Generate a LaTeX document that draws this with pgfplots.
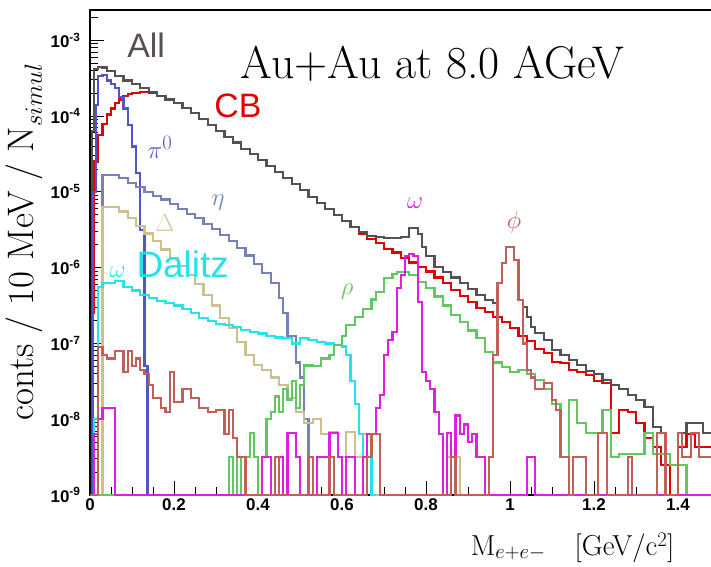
\documentclass[border=0pt]{standalone}
\usepackage{fontspec}
\setsansfont{Liberation Sans}
\usepackage{pgfplots}
\pgfplotsset{compat=1.18}

\definecolor{allgray}{RGB}{88,80,80}
\definecolor{cbred}{RGB}{228,0,0}
\definecolor{pizero}{RGB}{84,84,200}
\definecolor{etac}{RGB}{116,130,184}
\definecolor{deltac}{RGB}{204,192,142}
\definecolor{dalitzc}{RGB}{40,226,234}
\definecolor{omegac}{RGB}{224,30,224}
\definecolor{rhoc}{RGB}{96,200,96}
\definecolor{phic}{RGB}{192,96,88}

\begin{document}
\begin{tikzpicture}
\begin{axis}[
  scale only axis,
  width=630bp, height=485bp,
  xmin=0, xmax=1.5,
  ymode=log, ymin=1e-9, ymax=2.51e-3,
  xtick={0,0.2,0.4,0.6,0.8,1.0,1.2,1.4},
  xticklabels={0,0.2,0.4,0.6,0.8,1,1.2,1.4},
  minor x tick num=3,
  ytick={1e-9,1e-8,1e-7,1e-6,1e-5,1e-4,1e-3},
  yticklabels={10\textsuperscript{-9},10\textsuperscript{-8},10\textsuperscript{-7},10\textsuperscript{-6},10\textsuperscript{-5},10\textsuperscript{-4},10\textsuperscript{-3}},
  minor ytick={2e-9,3e-9,4e-9,5e-9,6e-9,7e-9,8e-9,9e-9,
               2e-8,3e-8,4e-8,5e-8,6e-8,7e-8,8e-8,9e-8,
               2e-7,3e-7,4e-7,5e-7,6e-7,7e-7,8e-7,9e-7,
               2e-6,3e-6,4e-6,5e-6,6e-6,7e-6,8e-6,9e-6,
               2e-5,3e-5,4e-5,5e-5,6e-5,7e-5,8e-5,9e-5,
               2e-4,3e-4,4e-4,5e-4,6e-4,7e-4,8e-4,9e-4,2e-3},
  xtick pos=bottom, ytick pos=left,
  tick align=inside,
  major tick length=14bp, minor tick length=8bp,
  tick style={black, line width=0.9bp},
  axis line style={line width=1.2bp},
  xticklabel style={font=\fontsize{17}{17}\selectfont\sffamily\bfseries},
  yticklabel style={font=\fontsize{17}{17}\selectfont\sffamily\bfseries, xshift=-6bp},
  clip mode=individual,
  every axis plot/.append style={const plot, line width=2.2bp},
]

% CB: combinatorial background
\addplot[cbred] coordinates {
(0.00,1e-9)(0.005,2.51e-7)(0.01,2.51e-5)(0.02,5.62e-5)(0.03,7.94e-5)(0.04,1.05e-4)
(0.05,1.26e-4)(0.06,1.48e-4)(0.07,1.66e-4)(0.08,1.82e-4)(0.09,1.95e-4)(0.10,2.04e-4)
(0.12,2.09e-4)(0.14,2.04e-4)(0.16,1.86e-4)(0.18,1.66e-4)(0.20,1.48e-4)(0.22,1.29e-4)
(0.24,1.10e-4)(0.26,9.12e-5)(0.28,7.59e-5)(0.30,6.31e-5)(0.32,5.25e-5)(0.34,4.47e-5)
(0.36,3.72e-5)(0.38,3.16e-5)(0.40,2.63e-5)(0.42,2.19e-5)(0.44,1.82e-5)(0.46,1.51e-5)
(0.48,1.26e-5)(0.50,1.05e-5)(0.52,8.51e-6)(0.54,7.08e-6)(0.56,5.89e-6)(0.58,4.90e-6)
(0.60,4.17e-6)(0.62,3.47e-6)(0.64,2.82e-6)(0.66,2.40e-6)(0.68,2.09e-6)(0.70,1.78e-6)
(0.72,1.58e-6)(0.74,1.35e-6)(0.76,1.17e-6)(0.78,1.02e-6)(0.80,8.91e-7)(0.82,7.41e-7)
(0.84,6.31e-7)(0.86,5.13e-7)(0.88,4.27e-7)(0.90,3.55e-7)(0.92,2.95e-7)(0.94,2.63e-7)
(0.96,2.24e-7)(0.98,1.91e-7)(1.00,1.58e-7)(1.02,1.26e-7)(1.04,1.07e-7)(1.06,8.51e-8)
(1.08,7.41e-8)(1.10,5.75e-8)(1.12,5.50e-8)(1.14,4.47e-8)(1.16,4.17e-8)(1.18,3.80e-8)
(1.20,3.16e-8)(1.22,3.02e-8)(1.24,6.61e-9)(1.26,1.32e-8)(1.28,1.26e-8)(1.30,8.91e-9)
(1.32,5.62e-9)(1.34,4.27e-9)(1.36,2.51e-9)(1.38,1e-9)(1.40,4.27e-9)(1.42,6.31e-9)
(1.44,4.27e-9)(1.46,4.27e-9)(1.48,4.27e-9)
};

% All sources summed
\addplot[allgray] coordinates {
(0.00,1e-9)(0.005,6.31e-5)(0.01,4.17e-4)(0.02,4.47e-4)(0.03,4.37e-4)(0.04,3.98e-4)
(0.06,3.39e-4)(0.08,2.95e-4)(0.10,2.63e-4)(0.12,2.34e-4)(0.14,2.09e-4)(0.16,1.86e-4)
(0.18,1.66e-4)(0.20,1.48e-4)(0.22,1.29e-4)(0.24,1.10e-4)(0.26,9.12e-5)(0.28,7.59e-5)
(0.30,6.31e-5)(0.32,5.25e-5)(0.34,4.47e-5)(0.36,3.72e-5)(0.38,3.16e-5)(0.40,2.63e-5)
(0.42,2.19e-5)(0.44,1.82e-5)(0.46,1.51e-5)(0.48,1.26e-5)(0.50,1.05e-5)(0.52,8.51e-6)
(0.54,7.08e-6)(0.56,5.89e-6)(0.58,4.90e-6)(0.60,4.17e-6)(0.62,3.47e-6)(0.64,2.95e-6)
(0.66,2.63e-6)(0.68,2.51e-6)(0.70,2.45e-6)(0.72,2.45e-6)(0.74,2.51e-6)(0.76,3.31e-6)
(0.78,2.75e-6)(0.79,1.86e-6)(0.80,1.41e-6)(0.82,1.02e-6)(0.84,8.71e-7)(0.86,7.41e-7)
(0.88,6.31e-7)(0.90,5.25e-7)(0.92,4.37e-7)(0.94,3.72e-7)(0.96,3.39e-7)(0.97,6.31e-7)
(0.98,1.15e-6)(0.99,1.86e-6)(1.00,1.86e-6)(1.01,1.26e-6)(1.02,3.72e-7)(1.03,3.02e-7)
(1.04,2.24e-7)(1.05,1.66e-7)(1.06,1.38e-7)(1.08,1.10e-7)(1.10,8.13e-8)(1.12,7.08e-8)
(1.14,6.03e-8)(1.16,5.25e-8)(1.18,4.37e-8)(1.20,3.98e-8)(1.22,3.31e-8)(1.24,2.82e-8)
(1.26,2.51e-8)(1.28,2.09e-8)(1.30,1.78e-8)(1.32,1.45e-8)(1.34,7.94e-9)(1.36,6.61e-9)
(1.37,1e-9)(1.40,6.61e-9)(1.42,8.91e-9)(1.44,8.91e-9)(1.46,6.61e-9)(1.48,6.61e-9)
};

% pi0 Dalitz
\addplot[pizero] coordinates {
(0.00,1e-9)(0.008,1e-5)(0.015,1.41e-4)(0.02,3.39e-4)(0.03,3.47e-4)(0.04,2.95e-4)
(0.05,2.63e-4)(0.06,2.34e-4)(0.07,1.78e-4)(0.08,1.26e-4)(0.09,7.59e-5)(0.10,3.98e-5)
(0.11,1.78e-5)(0.12,3.16e-6)(0.13,5.01e-8)(0.137,1e-9)(0.14,1e-9)
};

% eta Dalitz
\addplot[etac] coordinates {
(0.00,1e-9)(0.03,1.66e-5)(0.07,1.51e-5)(0.09,1.32e-5)(0.11,1.15e-5)(0.13,1.00e-5)
(0.15,8.91e-6)(0.17,7.94e-6)(0.19,6.92e-6)(0.21,5.89e-6)(0.23,5.13e-6)(0.25,4.47e-6)
(0.27,3.80e-6)(0.29,3.24e-6)(0.31,2.69e-6)(0.33,2.24e-6)(0.35,1.82e-6)(0.37,1.45e-6)
(0.39,1.12e-6)(0.41,8.51e-7)(0.43,6.31e-7)(0.45,3.98e-7)(0.46,2.51e-7)(0.47,1.26e-7)
(0.49,5.62e-8)(0.50,3.55e-8)(0.51,1e-8)(0.52,1e-9)(0.53,1e-9)
};

% Delta Dalitz
\addplot[deltac] coordinates {
(0.00,1e-9)(0.03,6.31e-6)(0.07,5.50e-6)(0.09,4.47e-6)(0.11,3.55e-6)(0.13,2.82e-6)
(0.15,2.24e-6)(0.17,1.74e-6)(0.19,1.35e-6)(0.21,1.05e-6)(0.23,7.94e-7)(0.25,6.03e-7)
(0.27,4.37e-7)(0.29,3.16e-7)(0.31,2.19e-7)(0.33,1.58e-7)(0.35,1.05e-7)(0.37,7.08e-8)
(0.39,5.25e-8)(0.41,4.47e-8)(0.43,3.55e-8)(0.45,2.82e-8)(0.47,1.91e-8)(0.49,1.26e-8)
(0.51,8.91e-9)(0.53,1.00e-8)(0.55,6.31e-9)(0.57,6.76e-9)(0.59,3.16e-9)(0.61,6.76e-9)
(0.63,3.16e-9)(0.65,6.31e-9)(0.67,1e-9)(0.85,3.16e-9)(0.87,3.16e-9)(0.88,1e-9)(0.89,1e-9)
};

% omega Dalitz
\addplot[dalitzc] coordinates {
(0.00,1e-9)(0.01,1e-8)(0.02,5.62e-7)(0.03,6.31e-7)(0.06,6.61e-7)(0.08,5.62e-7)
(0.10,5.01e-7)(0.12,4.37e-7)(0.14,3.98e-7)(0.16,3.63e-7)(0.18,3.39e-7)(0.20,3.16e-7)
(0.22,2.82e-7)(0.24,2.51e-7)(0.26,2.19e-7)(0.28,2.00e-7)(0.30,1.82e-7)(0.32,1.74e-7)
(0.34,1.66e-7)(0.36,1.51e-7)(0.38,1.41e-7)(0.40,1.35e-7)(0.42,1.26e-7)(0.44,1.20e-7)
(0.46,1.17e-7)(0.48,1.00e-7)(0.50,1.17e-7)(0.52,1.12e-7)(0.54,1.05e-7)(0.56,1.00e-7)
(0.58,9.55e-8)(0.60,9.12e-8)(0.61,7.08e-8)(0.62,3.16e-8)(0.63,1.58e-8)(0.64,6.31e-9)
(0.65,3.16e-9)(0.67,1e-9)(0.68,1e-9)
};

% rho
\addplot[rhoc] coordinates {
(0.00,1e-9)(0.33,3.16e-9)(0.34,1e-9)(0.35,3.16e-9)(0.36,1e-9)(0.37,3.16e-9)(0.38,6.61e-9)
(0.39,3.16e-9)(0.40,1e-9)(0.41,3.16e-9)(0.42,1e-8)(0.43,1.26e-8)(0.44,2.00e-8)(0.45,1.26e-8)
(0.46,2.51e-8)(0.47,1.78e-8)(0.48,3.16e-8)(0.49,1.41e-8)(0.50,2.82e-8)(0.51,5.13e-8)
(0.53,5.01e-8)(0.55,6.31e-8)(0.57,7.08e-8)(0.58,9.55e-8)(0.60,1.26e-7)(0.61,1.74e-7)
(0.63,2.24e-7)(0.65,2.88e-7)(0.67,3.80e-7)(0.68,4.79e-7)(0.70,7.24e-7)(0.72,8.32e-7)
(0.73,8.71e-7)(0.76,7.94e-7)(0.78,6.46e-7)(0.80,5.37e-7)(0.82,4.17e-7)(0.84,3.16e-7)
(0.86,2.40e-7)(0.88,1.91e-7)(0.90,1.48e-7)(0.92,1.17e-7)(0.94,7.76e-8)(0.96,5.62e-8)
(0.98,4.90e-8)(1.00,4.17e-8)(1.02,4.47e-8)(1.04,3.98e-8)(1.06,3.31e-8)(1.08,2.51e-8)
(1.10,1.58e-8)(1.12,3.16e-9)(1.14,1.78e-8)(1.16,8.91e-9)(1.18,6.61e-9)(1.22,1.32e-8)
(1.24,3.16e-9)(1.26,3.47e-9)(1.32,6.61e-9)(1.34,3.47e-9)(1.38,2.51e-9)(1.42,1e-9)(1.48,1e-9)
};

% omega
\addplot[omegac] coordinates {
(0.00,1e-9)(0.01,6.31e-9)(0.02,1e-8)(0.03,1.41e-8)(0.05,1.41e-8)(0.06,1e-9)
(0.41,3.16e-9)(0.43,1e-9)(0.45,3.16e-9)(0.46,1e-9)(0.47,6.61e-9)(0.49,3.16e-9)(0.50,1e-9)
(0.54,3.16e-9)(0.57,6.61e-9)(0.59,3.16e-9)(0.60,1e-9)(0.61,3.16e-9)(0.63,1e-9)
(0.65,3.16e-9)(0.66,6.31e-9)(0.68,1.41e-8)(0.69,2.09e-8)(0.70,7.08e-8)(0.71,1.12e-7)
(0.72,1.41e-7)(0.73,5.37e-7)(0.74,7.94e-7)(0.75,1.41e-6)(0.76,1.51e-6)(0.77,1.41e-6)
(0.78,3.55e-7)(0.79,4.17e-8)(0.80,3.16e-8)(0.81,2.51e-8)(0.82,1.26e-8)(0.83,6.31e-9)
(0.84,1e-9)(0.85,6.61e-9)(0.86,3.16e-9)(0.87,1.12e-8)(0.88,6.31e-9)(0.89,8.51e-9)
(0.90,5.01e-9)(0.91,6.31e-9)(0.92,3.16e-9)(0.94,1e-9)(1.04,3.16e-9)(1.06,1e-9)(1.48,1e-9)
};

% phi
\addplot[phic] coordinates {
(0.00,1e-9)(0.02,8.91e-8)(0.03,7.08e-8)(0.04,6.31e-8)(0.06,7.94e-8)(0.08,4.17e-8)
(0.09,7.94e-8)(0.10,5.01e-8)(0.11,6.31e-8)(0.12,4.47e-8)(0.13,3.98e-8)(0.14,2.82e-8)
(0.15,1.91e-8)(0.17,1.41e-8)(0.18,1.26e-8)(0.19,4.17e-8)(0.20,1.70e-8)(0.22,2.51e-8)
(0.24,1.91e-8)(0.26,1.41e-8)(0.28,1.26e-8)(0.30,1.32e-8)(0.32,6.31e-9)(0.33,1.32e-8)
(0.34,5.62e-9)(0.35,3.16e-9)(0.37,1e-9)(0.44,3.16e-9)(0.45,1e-9)(0.52,3.16e-9)(0.53,1e-9)
(0.57,3.16e-9)(0.58,1e-9)(0.66,3.16e-9)(0.67,6.31e-9)(0.69,1e-9)(0.86,3.16e-9)(0.87,1e-9)
(0.95,3.16e-9)(0.96,7.08e-8)(0.97,6.31e-7)(0.98,1.15e-6)(0.99,1.86e-6)(1.00,1.86e-6)
(1.01,1.26e-6)(1.02,3.72e-7)(1.03,1.00e-7)(1.04,4.47e-8)(1.05,3.55e-8)(1.06,2.51e-8)
(1.08,3.02e-8)(1.10,1.78e-8)(1.11,1.32e-8)(1.12,3.16e-9)(1.14,1e-9)(1.15,3.16e-9)
(1.18,1e-9)(1.21,6.61e-9)(1.23,1e-9)(1.28,3.16e-9)(1.29,1e-9)(1.35,6.61e-9)(1.37,1e-9)
(1.40,6.61e-9)(1.41,3.16e-9)(1.43,6.61e-9)(1.45,3.16e-9)(1.48,3.16e-9)
};

% Labels of the individual sources
\node[font=\fontsize{34}{34}\selectfont\sffamily, text=allgray] at (axis description cs:0.089,0.928) {All};
\node[font=\fontsize{46}{46}\selectfont, anchor=base west] at (axis description cs:0.2333,0.8598) {Au+Au at 8.0 AGeV};
\node[font=\fontsize{34}{34}\selectfont\sffamily, text=cbred] at (axis description cs:0.2349,0.802) {CB};
\node[font=\fontsize{30}{30}\selectfont, text=pizero] at (axis description cs:0.111,0.7175) {$\pi^0$};
\node[font=\fontsize{34}{34}\selectfont, text=etac] at (axis description cs:0.2032,0.602) {$\eta$};
\node[font=\fontsize{26}{26}\selectfont, text=deltac!80] at (axis description cs:0.119,0.561) {$\Delta$};
\node[font=\fontsize{28}{28}\selectfont, text=dalitzc, anchor=base east] at (axis description cs:0.062,0.4495) {$\omega$};
\node[font=\fontsize{37}{37}\selectfont\sffamily, text=dalitzc, anchor=base west] at (axis description cs:0.0683,0.4495) {Dalitz};
\node[font=\fontsize{40}{40}\selectfont, text=omegac] at (axis description cs:0.516,0.602) {$\omega$};
\node[font=\fontsize{40}{40}\selectfont, text=rhoc] at (axis description cs:0.408,0.4186) {$\rho$};
\node[font=\fontsize{38}{38}\selectfont, text=phic] at (axis description cs:0.673,0.563) {$\phi$};

% Axis titles
\node[font=\fontsize{37}{37}\selectfont, rotate=90, anchor=base] at (axis description cs:-0.090,0.5216) {conts / 10 MeV / N$_{simul}$};
\node[font=\fontsize{29}{29}\selectfont, anchor=base east] at (axis description cs:0.9333,-0.124) {M$_{e+e-}$\quad[GeV/c$^{2}$]};

\coordinate (O) at (rel axis cs:0,0);
\end{axis}
\pgfresetboundingbox
\path[use as bounding box] ([xshift=-90bp,yshift=-72bp]O) rectangle ([xshift=621bp,yshift=495bp]O);
\end{tikzpicture}
\end{document}
